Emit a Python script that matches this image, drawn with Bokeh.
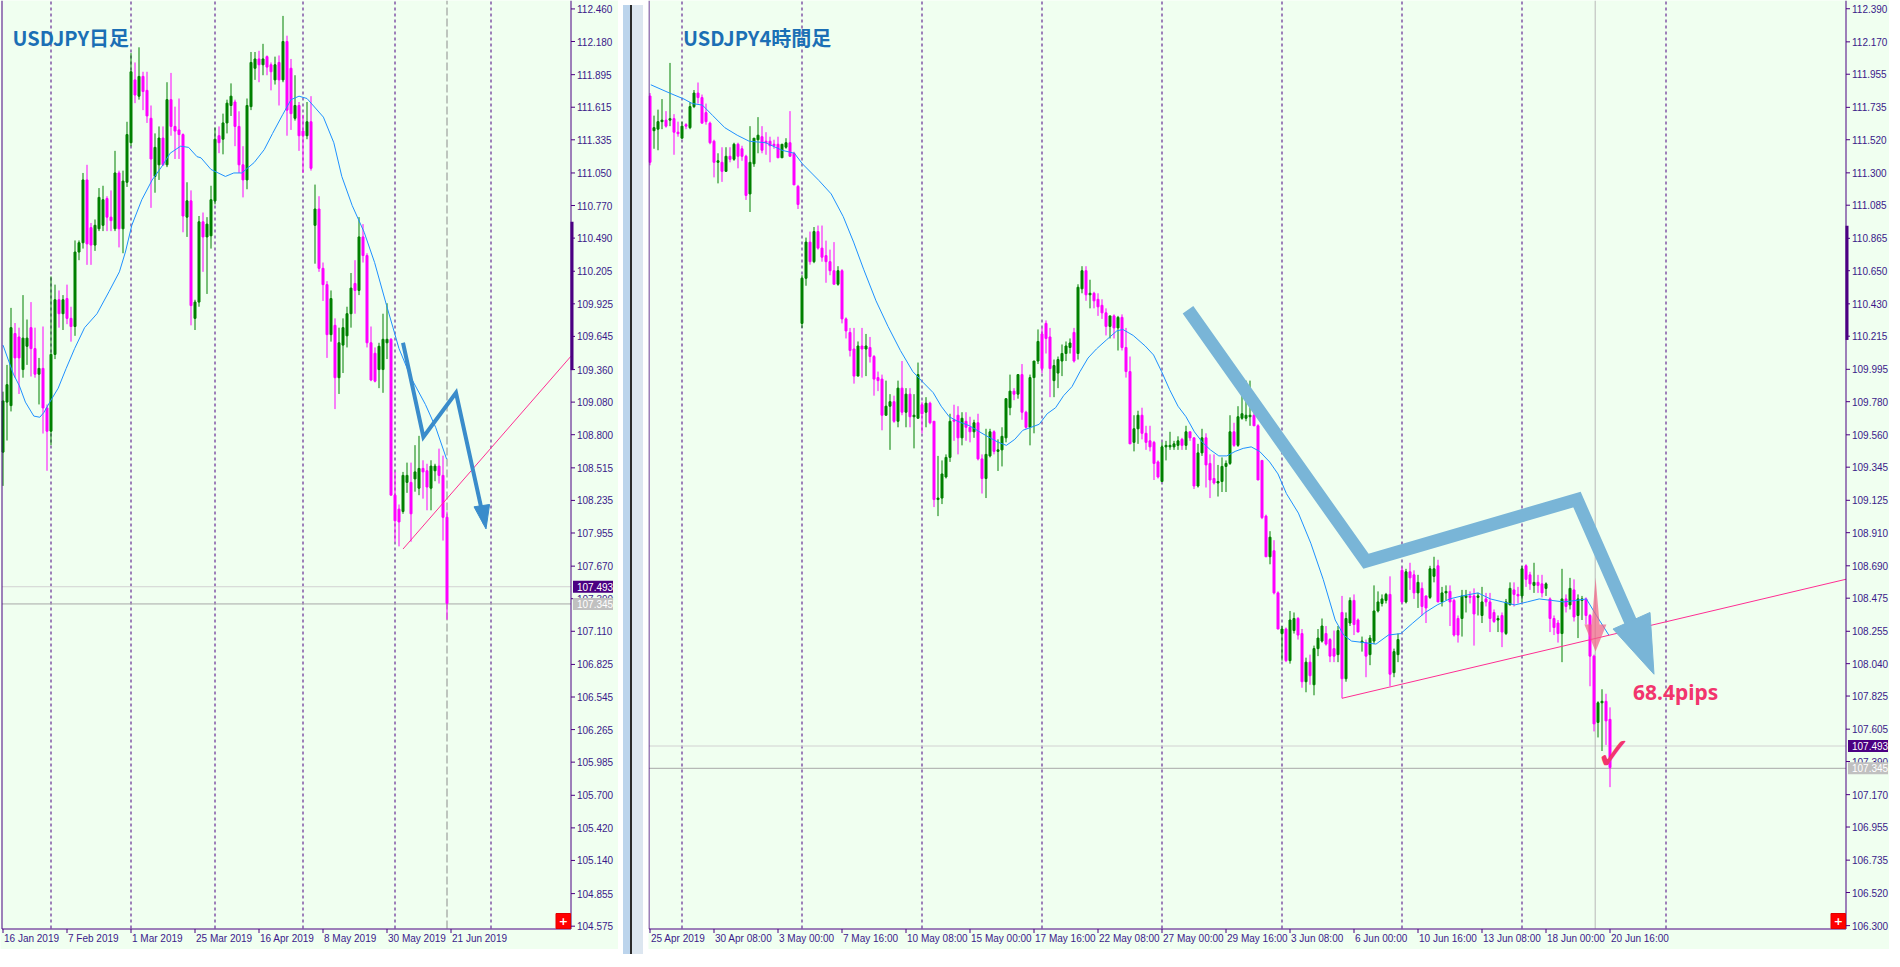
from bokeh.plotting import figure
from bokeh.models import Range1d, Label, ColumnDataSource, Div
from bokeh.layouts import row
from bokeh.core.properties import value
from bokeh.embed import file_html
from bokeh.resources import INLINE

# ---------------- Daily USDJPY (16 Jan 2019 - 20 Jun 2019) ----------------
d_open = [108.65,109.08,109.05,109.67,109.64,109.36,109.56,109.72,109.54,109.32,
 109.37,109.03,108.83,109.49,109.96,109.84,109.97,109.80,109.73,110.37,
 110.45,110.99,110.58,110.43,110.57,110.60,110.83,110.67,110.57,111.05,
 110.57,110.97,111.31,111.85,111.71,111.88,111.76,111.52,111.02,111.12,
 111.35,111.12,111.68,111.45,111.42,111.38,110.67,110.81,109.80,109.94,
 110.63,110.50,110.51,110.81,111.37,111.34,111.48,111.63,111.66,111.45,
 111.12,110.99,111.62,111.95,112.03,111.98,112.05,111.98,111.85,112.00,
 111.85,112.18,111.95,111.52,111.63,111.41,111.37,111.49,110.60,110.74,
 110.23,110.09,109.66,109.74,109.29,109.57,109.65,109.84,110.10,110.04,
 110.50,110.34,109.59,109.50,109.36,109.36,109.59,109.62,108.28,108.16,
 108.14,108.39,108.39,108.42,108.34,108.51,108.49,108.34,108.49,108.53,
 108.45,108.09]
d_high = [109.17,109.40,109.89,109.76,109.72,110.00,109.79,109.94,109.72,109.46,
 109.73,109.06,110.16,110.09,110.04,110.00,110.09,109.90,110.47,110.47,
 111.05,111.12,110.62,110.65,110.92,110.94,110.85,110.90,111.24,111.07,
 111.07,111.49,112.08,112.00,112.13,111.92,111.92,111.63,111.39,111.45,
 111.45,111.83,111.91,111.62,111.69,111.39,110.97,110.90,109.96,110.68,
 110.71,110.67,110.94,111.44,111.45,111.56,111.68,111.82,111.68,111.58,
 111.28,111.69,112.09,112.09,112.10,112.16,112.06,112.00,112.05,112.06,
 112.40,112.23,112.03,111.89,111.66,111.55,111.66,111.71,110.95,110.85,
 110.28,110.12,110.04,109.80,109.72,109.80,109.90,110.19,110.30,110.67,
 110.61,110.36,109.73,109.55,109.59,109.84,109.93,109.63,108.48,108.20,
 108.48,108.56,108.56,108.71,108.79,108.58,108.55,108.58,108.55,108.68,
 108.62,108.14]
d_low = [108.36,108.75,109.00,109.29,109.15,109.29,109.40,109.30,109.29,109.06,
 108.81,108.49,108.71,109.45,109.72,109.70,109.75,109.60,109.65,110.30,
 110.40,110.26,110.26,110.38,110.55,110.55,110.55,110.55,110.55,110.41,
 110.36,110.93,111.28,111.65,111.68,111.59,111.48,110.75,110.88,110.99,
 111.11,111.10,111.37,111.17,111.17,110.54,110.50,109.74,109.70,109.90,
 110.20,110.01,110.40,110.78,111.22,111.21,111.39,111.54,111.28,111.05,
 110.84,110.91,111.59,111.85,111.83,111.89,111.89,111.76,111.81,111.63,
 111.83,111.37,111.42,111.50,111.24,111.05,111.34,111.07,110.27,110.20,
 109.95,109.46,109.60,109.02,109.15,109.33,109.55,109.72,109.84,110.00,
 110.28,109.55,109.26,109.25,109.20,109.16,109.45,108.28,107.88,107.84,
 108.12,108.30,107.88,108.31,108.28,108.25,108.15,108.15,108.40,108.38,
 107.89,107.21]
d_close = [109.09,109.23,109.72,109.46,109.46,109.63,109.63,109.54,109.32,109.37,
 109.03,108.83,109.49,109.96,109.84,109.96,109.80,109.73,110.37,110.45,
 110.99,110.44,110.43,110.60,110.84,110.82,110.67,110.64,111.05,110.57,
 110.98,111.38,111.92,111.72,111.88,111.75,111.54,111.17,111.27,111.35,
 111.12,111.68,111.45,111.41,111.38,110.68,110.81,109.91,109.94,110.63,
 110.50,110.61,110.82,111.34,111.31,111.48,111.65,111.71,111.45,111.12,
 110.99,111.63,112.00,112.03,111.98,112.03,111.96,111.92,111.98,111.85,
 112.18,111.59,111.56,111.63,111.37,111.37,111.49,111.09,110.74,110.23,
 110.09,109.66,109.97,109.29,109.59,109.72,109.84,110.06,110.04,110.50,
 110.34,109.59,109.27,109.26,109.56,109.62,109.62,108.28,108.06,108.05,
 108.45,108.45,108.12,108.48,108.51,108.48,108.35,108.53,108.53,108.45,
 108.09,107.35]
# moving average (bar position, price)
d_ma_x = [0,2.6,4.1,5.6,7.7,9.2,10.2,11.7,13.8,15.8,17.9,20.4,23.5,26.5,29.1,30.6,32.2,
 34.7,37.3,39.8,41.8,44.4,46.4,48.5,49.5,52.0,55.6,57.7,59.7,62.8,65.3,67.4,69.9,72.0,
 74.0,76.0,80.1,82.7,84.7,87.3,90.3,92.9,95.9,97.5,99.0,102.0,105.6,108.2,110.9]
d_ma_y = [109.57,109.32,109.22,109.08,108.96,108.95,108.99,109.08,109.20,109.37,109.54,
 109.72,109.84,110.03,110.20,110.37,110.60,110.82,110.99,111.11,111.22,111.28,111.27,
 111.19,111.18,111.08,111.02,111.05,111.05,111.14,111.25,111.39,111.55,111.68,111.71,
 111.69,111.53,111.31,111.02,110.77,110.54,110.28,109.91,109.72,109.54,109.29,109.06,
 108.86,108.59]
d_tick_pos = [0, 16, 32, 48, 64, 80, 96, 112]
d_tick_lbl = ["16 Jan 2019", "7 Feb 2019", "1 Mar 2019", "25 Mar 2019", "16 Apr 2019",
              "8 May 2019", "30 May 2019", "21 Jun 2019"]
d_yticks = [104.575,104.855,105.140,105.420,105.700,105.985,106.265,106.545,106.825,
 107.110,107.390,107.670,107.955,108.235,108.515,108.800,109.080,109.360,109.645,
 109.925,110.205,110.490,110.770,111.050,111.335,111.615,111.895,112.180,112.460]
d_sep = [12, 32, 53, 75, 98, 122]
d_vline = 111
d_scale_mark = [109.355, 110.63]
d_trend_x = [100.0, 142.0]
d_trend_y = [107.817, 109.475]
d_arrow_x = [100.0, 105.1, 113.25, 120.4]
d_arrow_y = [109.59, 108.78, 109.16, 108.04]
d_head_x = [117.75, 121.65, 120.75]
d_head_y = [108.18, 108.20, 107.99]

# ---------------- 4-hour USDJPY (25 Apr 16:00 - 20 Jun 16:00) ----------------
h4_open = [111.81,111.58,111.59,111.64,111.65,111.65,111.66,111.57,111.53,111.62,
 111.60,111.74,111.83,111.80,111.70,111.63,111.51,111.37,111.37,111.31,
 111.41,111.39,111.49,111.46,111.41,111.16,111.36,111.52,111.54,111.51,
 111.51,111.49,111.49,111.40,111.47,111.50,111.43,111.21,110.30,110.60,
 110.84,110.71,110.91,110.80,110.75,110.71,110.65,110.56,110.65,110.33,
 110.24,110.13,109.95,110.15,110.13,110.14,110.08,109.94,109.93,109.69,
 109.75,109.78,109.65,109.87,109.71,109.83,109.68,109.67,109.76,109.71,
 109.77,109.65,109.13,109.14,109.28,109.41,109.66,109.69,109.54,109.65,
 109.61,109.58,109.64,109.40,109.27,109.42,109.58,109.45,109.46,109.54,
 109.74,109.85,109.83,109.96,109.71,109.61,109.94,110.05,110.23,110.30,
 110.21,109.92,109.97,110.05,110.10,110.14,110.24,110.10,110.53,110.65,
 110.49,110.50,110.46,110.42,110.37,110.28,110.35,110.27,110.34,110.14,
 109.98,109.51,109.60,109.69,109.57,109.52,109.51,109.38,109.25,109.48,
 109.48,109.48,109.49,109.53,109.49,109.58,109.54,109.22,109.44,109.54,
 109.37,109.27,109.24,109.25,109.35,109.37,109.58,109.49,109.67,109.67,
 109.68,109.69,109.62,109.39,109.02,108.75,108.79,108.51,108.24,108.27,
 108.06,108.26,108.34,108.24,107.92,108.05,107.90,108.14,108.19,108.24,
 108.20,108.14,108.10,108.38,107.94,108.31,108.46,108.33,108.18,108.18,
 108.10,108.19,108.39,108.44,108.46,108.50,107.98,108.10,108.66,108.45,
 108.65,108.63,108.51,108.54,108.49,108.48,108.62,108.69,108.45,108.51,
 108.52,108.46,108.34,108.34,108.48,108.49,108.49,108.48,108.36,108.47,
 108.45,108.38,108.33,108.36,108.24,108.43,108.53,108.50,108.49,108.69,
 108.63,108.56,108.58,108.57,108.54,108.47,108.34,108.31,108.24,108.47,
 108.43,108.53,108.36,108.46,108.47,108.36,108.09,107.65,107.78,107.79,
 107.67]
h4_high = [111.83,111.68,111.72,111.79,111.71,112.03,111.69,111.64,111.64,111.63,
 111.77,111.85,111.90,111.82,111.76,111.64,111.52,111.43,111.47,111.47,
 111.47,111.50,111.50,111.48,111.42,111.61,111.53,111.67,111.61,111.57,
 111.54,111.52,111.54,111.49,111.53,111.71,111.44,111.22,110.62,110.87,
 110.91,110.94,110.95,110.95,110.85,110.79,110.84,110.68,110.66,110.34,
 110.27,110.27,110.18,110.27,110.23,110.21,110.09,109.98,109.96,109.92,
 109.83,109.82,109.92,110.05,109.87,109.87,109.83,110.04,109.78,109.81,
 109.78,109.65,109.42,109.39,109.43,109.70,109.76,109.75,109.71,109.71,
 109.68,109.66,109.70,109.43,109.60,109.60,109.59,109.53,109.61,109.80,
 109.96,109.87,109.96,110.03,109.72,109.96,110.05,110.26,110.27,110.32,
 110.27,110.06,110.08,110.16,110.18,110.20,110.27,110.56,110.68,110.68,
 110.59,110.51,110.50,110.46,110.40,110.35,110.36,110.35,110.36,110.27,
 110.08,109.69,109.72,109.74,109.62,109.62,109.52,109.39,109.51,109.52,
 109.58,109.52,109.55,109.54,109.62,109.58,109.54,109.50,109.60,109.57,
 109.43,109.43,109.36,109.41,109.39,109.69,109.64,109.75,109.82,109.92,
 109.92,109.71,109.63,109.39,109.03,108.92,108.86,108.52,108.29,108.28,
 108.39,108.38,108.35,108.27,108.08,108.10,108.16,108.27,108.34,108.29,
 108.21,108.26,108.29,108.49,108.38,108.48,108.50,108.34,108.22,108.20,
 108.23,108.56,108.52,108.50,108.51,108.62,108.14,108.24,108.68,108.67,
 108.71,108.66,108.63,108.58,108.49,108.69,108.75,108.73,108.55,108.56,
 108.56,108.47,108.36,108.53,108.53,108.52,108.54,108.51,108.55,108.51,
 108.51,108.40,108.36,108.38,108.47,108.58,108.58,108.55,108.69,108.70,
 108.65,108.71,108.63,108.63,108.58,108.48,108.36,108.33,108.67,108.50,
 108.61,108.60,108.50,108.49,108.48,108.37,108.10,107.79,107.87,107.84,
 107.75]
h4_low = [111.35,111.46,111.45,111.59,111.60,111.61,111.42,111.54,111.53,111.59,
 111.59,111.73,111.76,111.63,111.62,111.49,111.27,111.23,111.24,111.31,
 111.37,111.38,111.33,111.38,111.12,111.04,111.34,111.43,111.43,111.42,
 111.37,111.46,111.40,111.40,111.46,111.41,111.22,111.06,110.27,110.55,
 110.69,110.70,110.79,110.71,110.57,110.62,110.56,110.55,110.30,110.20,
 110.08,109.90,109.95,109.94,109.95,110.04,109.82,109.85,109.59,109.69,
 109.46,109.64,109.61,109.69,109.61,109.61,109.47,109.67,109.57,109.61,
 109.63,109.08,109.02,109.10,109.27,109.38,109.52,109.43,109.49,109.52,
 109.51,109.54,109.39,109.17,109.14,109.41,109.43,109.32,109.35,109.51,
 109.69,109.79,109.80,109.66,109.60,109.49,109.57,110.03,109.97,110.10,
 109.81,109.81,109.87,109.95,110.05,110.10,110.04,110.06,110.50,110.45,
 110.40,110.40,110.35,110.33,110.22,110.20,110.20,110.12,110.12,109.94,
 109.50,109.45,109.50,109.53,109.46,109.45,109.26,109.27,109.25,109.39,
 109.46,109.46,109.46,109.46,109.46,109.52,109.20,109.21,109.42,109.21,
 109.14,109.23,109.15,109.18,109.18,109.36,109.48,109.48,109.66,109.65,
 109.62,109.62,109.26,109.00,108.75,108.70,108.50,108.27,108.06,108.05,
 108.04,108.24,108.20,107.88,107.85,107.90,107.83,108.09,108.18,108.16,
 108.05,108.05,108.05,107.81,107.92,108.29,108.23,108.25,108.12,107.95,
 108.03,108.17,108.38,108.42,108.44,107.89,107.95,108.05,108.44,108.44,
 108.53,108.47,108.41,108.36,108.31,108.47,108.58,108.45,108.42,108.46,
 108.29,108.22,108.18,108.22,108.38,108.44,108.16,108.36,108.31,108.42,
 108.25,108.31,108.25,108.15,108.23,108.43,108.42,108.44,108.45,108.55,
 108.53,108.51,108.51,108.48,108.49,108.25,108.23,108.18,108.05,108.38,
 108.40,108.32,108.21,108.33,108.30,107.89,107.59,107.55,107.46,107.50,
 107.22]
h4_close = [111.37,111.60,111.64,111.65,111.61,111.66,111.57,111.56,111.61,111.61,
 111.74,111.83,111.80,111.63,111.64,111.50,111.37,111.38,111.31,111.41,
 111.39,111.49,111.41,111.41,111.15,111.37,111.53,111.55,111.45,111.50,
 111.48,111.48,111.40,111.49,111.50,111.41,111.22,111.09,110.60,110.84,
 110.71,110.91,110.80,110.74,110.71,110.65,110.56,110.65,110.33,110.25,
 110.12,109.95,110.15,110.13,110.15,110.08,109.93,109.92,109.69,109.75,
 109.78,109.65,109.87,109.71,109.83,109.68,109.69,109.96,109.70,109.77,
 109.64,109.13,109.14,109.30,109.41,109.65,109.65,109.54,109.67,109.61,
 109.58,109.64,109.40,109.27,109.43,109.58,109.45,109.46,109.55,109.80,
 109.85,109.83,109.96,109.71,109.61,109.94,110.05,110.18,110.00,110.20,
 110.00,110.02,110.06,110.10,110.15,110.17,110.05,110.54,110.65,110.49,
 110.50,110.45,110.41,110.37,110.28,110.35,110.27,110.34,110.14,109.98,
 109.50,109.60,109.69,109.57,109.51,109.48,109.37,109.28,109.48,109.49,
 109.49,109.50,109.52,109.49,109.58,109.54,109.22,109.44,109.54,109.36,
 109.26,109.24,109.25,109.35,109.37,109.58,109.49,109.68,109.70,109.69,
 109.69,109.62,109.26,109.01,108.75,108.88,108.51,108.27,108.27,108.06,
 108.33,108.34,108.23,107.92,108.05,107.96,108.14,108.21,108.29,108.17,
 108.09,108.09,108.26,107.94,108.34,108.46,108.30,108.25,108.19,108.09,
 108.21,108.39,108.45,108.47,108.50,107.97,108.12,108.20,108.45,108.65,
 108.61,108.51,108.58,108.42,108.41,108.67,108.67,108.45,108.51,108.52,
 108.45,108.23,108.23,108.49,108.49,108.48,108.37,108.49,108.45,108.45,
 108.34,108.32,108.34,108.25,108.45,108.54,108.50,108.49,108.67,108.60,
 108.57,108.58,108.56,108.51,108.57,108.34,108.28,108.24,108.47,108.42,
 108.54,108.35,108.47,108.47,108.36,108.09,107.64,107.78,107.79,107.66,
 107.35]
h4_ma_x = [0.2,4.9,8.5,10.6,13.1,15.7,18.7,21.8,24.8,28.9,33.0,36.1,38.1,42.2,45.3,48.3,
 50.9,53.4,56.5,59.5,62.6,65.7,68.2,70.8,72.8,74.8,76.9,79.9,83.0,85.0,87.1,89.1,91.2,
 93.2,95.3,97.3,99.3,101.4,103.4,105.5,107.5,109.5,111.6,114.1,116.7,118.2,120.8,123.8,
 125.9,127.9,129.9,132.0,134.0,136.1,138.1,140.1,142.2,144.2,146.3,148.3,150.3,152.4,
 154.9,157.0,159.1,162.1,165.2,168.3,171.3,173.4,175.4,178.5,181.5,184.6,187.7,190.7,
 193.8,196.8,199.9,203.0,207.0,210.1,213.2,216.2,219.3,222.3,225.4,228.5,231.5,234.1,
 236.6,239.7]
h4_ma_y = [111.885,111.83,111.79,111.76,111.75,111.68,111.60,111.55,111.51,111.50,
 111.45,111.43,111.36,111.25,111.16,111.01,110.84,110.66,110.45,110.28,
 110.12,109.98,109.91,109.84,109.75,109.68,109.65,109.62,109.57,109.54,
 109.51,109.49,109.53,109.59,109.61,109.63,109.70,109.74,109.82,109.88,
 109.98,110.07,110.13,110.19,110.25,110.26,110.22,110.15,110.09,109.98,
 109.86,109.75,109.68,109.58,109.51,109.46,109.42,109.42,109.45,109.47,
 109.48,109.45,109.38,109.30,109.17,109.04,108.84,108.60,108.33,108.23,
 108.19,108.18,108.17,108.23,108.24,108.31,108.38,108.43,108.47,108.49,
 108.51,108.47,108.45,108.43,108.45,108.47,108.46,108.45,108.46,108.47,
 108.36,108.23]
h4_tick_pos = list(range(0, 241, 16))
h4_tick_lbl = ["25 Apr 2019", "30 Apr 08:00", "3 May 00:00", "7 May 16:00", "10 May 08:00",
               "15 May 00:00", "17 May 16:00", "22 May 08:00", "27 May 00:00", "29 May 16:00",
               "3 Jun 08:00", "6 Jun 00:00", "10 Jun 16:00", "13 Jun 08:00", "18 Jun 00:00",
               "20 Jun 16:00"]
h4_yticks = [106.300,106.520,106.735,106.955,107.170,107.390,107.605,107.825,108.040,
 108.255,108.475,108.690,108.910,109.125,109.345,109.560,109.780,109.995,110.215,
 110.430,110.650,110.865,111.085,111.300,111.520,111.735,111.955,112.170,112.390]
h4_sep = [8, 38, 68, 98, 128, 158, 188, 218, 254]
h4_vline = 236.3
h4_scale_mark = [110.19, 110.948]
h4_trend_x = [173.0, 302.25]
h4_trend_y = [107.81, 108.621]
h4_arrow_x = [134.5, 179.0, 231.75, 245.3]
h4_arrow_y = [110.39, 108.72, 109.13, 108.31]
h4_head_x = [240.75, 250.0, 251.0]
h4_head_y = [108.27, 108.38, 107.97]
pink_x = [236.4, 237.4, 239.1, 236.4, 233.6, 235.4]
pink_y = [108.61, 108.30, 108.30, 108.12, 108.30, 108.30]

ask_price = 107.493
bid_price = 107.345

assert len(d_open) == len(d_high) == len(d_low) == len(d_close) == 112
assert len(h4_open) == len(h4_high) == len(h4_low) == len(h4_close) == 241
assert len(d_ma_x) == len(d_ma_y) and len(h4_ma_x) == len(h4_ma_y)

# ---------------- styling ----------------
BG = "#F0FFF0"
AX = "#4B0082"
LBL = "#3A1A8A"
BULL = "#008000"
BEAR = "#FF00FF"
MA_C = "#1E90FF"
TREND = "#FF2E93"
CHART_H = 928          # height of the candle area in px
AXIS_H = 21            # room for the time labels
PPX = 4.0              # px per bar
FONT = "Liberation Sans"


def make_panel(o, h, l, c, chart_w, fig_w, left_px, y0, y1, yticks, xt_pos, xt_lbl,
               seps, ma_x, ma_y, vline, vline_dash, vline_color, scale_mark,
               trend_x, trend_y):
    fig_h = CHART_H + AXIS_H
    ppy = CHART_H / (y1 - y0)
    bar0_px = left_px + 1.0

    def X(px):
        return (px - bar0_px) / PPX

    def Y(py):
        return y1 - py / ppy

    axis_px = left_px + chart_w + 1.0
    bottom_py = CHART_H + 0.5
    xL, xR, yB = X(left_px), X(axis_px), Y(bottom_py)

    p = figure(width=fig_w, height=fig_h, x_range=Range1d(X(0), X(fig_w)),
               y_range=Range1d(Y(fig_h), y1), x_axis_type=None, y_axis_type=None,
               min_border=0, output_backend="svg", toolbar_location=None,
               background_fill_color=BG, border_fill_color=BG, outline_line_color=None,
               title=None)
    p.xgrid.visible = False
    p.ygrid.visible = False

    # period separators, horizontal price lines, marker line
    p.segment(x0=seps, x1=seps, y0=[Y(CHART_H)] * len(seps), y1=[y1] * len(seps),
              line_color=AX, line_dash="3 3", line_width=1)
    p.segment(x0=[xL, xL], x1=[xR, xR], y0=[ask_price, bid_price], y1=[ask_price, bid_price],
              line_color=["#D2D2D2", "#A8A8A8"], line_width=1)
    p.segment(x0=[vline], x1=[vline], y0=[Y(CHART_H)], y1=[y1], line_color=vline_color,
              line_dash=vline_dash, line_width=1)

    # candles
    src = ColumnDataSource(dict(
        x=list(range(len(o))),
        top=[max(a, b) for a, b in zip(o, c)],
        bottom=[min(a, b) for a, b in zip(o, c)],
        high=h, low=l,
        color=[BULL if b >= a else BEAR for a, b in zip(o, c)]))
    p.segment(x0="x", y0="low", x1="x", y1="high", line_color="color", line_width=1,
              source=src)
    p.vbar(x="x", width=0.5, top="top", bottom="bottom", fill_color="color",
           line_color="color", line_width=1, source=src)
    p.line(ma_x, ma_y, line_color=MA_C, line_width=1)

    # trend line, ending at the price axis
    slope = (trend_y[1] - trend_y[0]) / (trend_x[1] - trend_x[0])
    p.line([trend_x[0], xR], [trend_y[0], trend_y[0] + slope * (xR - trend_x[0])],
           line_color=TREND, line_width=1)

    # frame lines
    p.segment(x0=[xL, xR, xL], x1=[xL, xR, xR], y0=[yB, yB, yB], y1=[y1, y1, yB],
              line_color=AX, line_width=1)
    p.segment(x0=[X(axis_px + 1)], x1=[X(axis_px + 1)], y0=[scale_mark[0]],
              y1=[scale_mark[1]], line_color=AX, line_width=3)

    # price axis ticks + labels
    n = len(yticks)
    p.segment(x0=[xR] * n, x1=[X(axis_px + 4)] * n, y0=yticks, y1=yticks,
              line_color=AX, line_width=1)
    p.text(x=[X(axis_px + 6)] * n, y=yticks, text=[f"{v:.3f}" for v in yticks],
           text_font=value(FONT), text_font_size=value("10px"), text_color=LBL,
           text_align="left", text_baseline="middle")

    # time axis ticks + labels (left aligned at the tick, MT4 style)
    m = len(xt_pos)
    p.segment(x0=xt_pos, x1=xt_pos, y0=[yB] * m, y1=[Y(bottom_py + 4)] * m,
              line_color=AX, line_width=1)
    p.text(x=xt_pos, y=[Y(bottom_py + 4)] * m, text=xt_lbl, x_offset=1,
           text_font=value(FONT), text_font_size=value("10px"), text_color=LBL,
           text_align="left", text_baseline="top")

    # current price boxes on the axis
    hh = 6.0 / ppy
    for price, bg in ((ask_price, "#4B0082"), (bid_price, "#C0C0C0")):
        p.quad(left=[X(axis_px + 2)], right=[X(axis_px + 42)], bottom=[price - hh],
               top=[price + hh], fill_color=bg, line_color=None)
        p.text(x=[X(axis_px + 6)], y=[price], text=[f"{price:.3f}"],
               text_font=value(FONT), text_font_size=value("10px"), text_color="white",
               text_align="left", text_baseline="middle")

    # red "+" box in the lower right corner
    p.quad(left=[X(axis_px - 15)], right=[X(axis_px - 0.5)], bottom=[Y(CHART_H)],
           top=[Y(CHART_H - 15)], fill_color="#FF0000", line_color="#E00000")
    p.text(x=[X(axis_px - 7.75)], y=[Y(CHART_H - 7.5)], text=["+"],
           text_font=value("DejaVu Sans"), text_font_style="bold",
           text_font_size=value("11px"), text_color="white", text_align="center",
           text_baseline="middle")
    return p


# ---------------- left: daily ----------------
p1 = make_panel(d_open, d_high, d_low, d_close, 568, 618, 1.5, 104.555, 112.5325,
                d_yticks, d_tick_pos, d_tick_lbl, d_sep, d_ma_x, d_ma_y,
                d_vline, "8 3", "#8C8C8C", d_scale_mark, d_trend_x, d_trend_y)
p1.line(d_arrow_x, d_arrow_y, line_color="#3A8CCB", line_width=4, line_join="miter")
p1.patch(d_head_x, d_head_y, fill_color="#3A8CCB", line_color="#3A8CCB")
p1.add_layout(Label(x=2.4, y=112.214, text="USDJPY日足", text_font="Noto Sans CJK JP",
                    text_font_style="bold", text_font_size="20px", text_color="#1B6FB5",
                    text_baseline="middle", text_align="left"))

# ---------------- right: 4 hour ----------------
p2 = make_panel(h4_open, h4_high, h4_low, h4_close, 1196, 1241, 0.5, 106.281, 112.4447,
                h4_yticks, h4_tick_pos, h4_tick_lbl, h4_sep, h4_ma_x, h4_ma_y,
                h4_vline, "solid", "#B8B8B8", h4_scale_mark, h4_trend_x, h4_trend_y)
p2.line(h4_arrow_x, h4_arrow_y, line_color="#79B5D7", line_width=13, line_join="miter")
p2.patch(h4_head_x, h4_head_y, fill_color="#79B5D7", line_color="#79B5D7")
p2.patch(pink_x, pink_y, fill_color="#F25F86", fill_alpha=0.7, line_color=None)
p2.add_layout(Label(x=8.25, y=112.199, text="USDJPY4時間足", text_font="Noto Sans CJK JP",
                    text_font_style="bold", text_font_size="20px", text_color="#1B6FB5",
                    text_baseline="middle", text_align="left"))
p2.add_layout(Label(x=245.75, y=107.85, text="68.4pips", text_font="Noto Sans",
                    text_font_style="bold", text_font_size="21px", text_color="#F2356D",
                    text_baseline="middle", text_align="left"))
p2.add_layout(Label(x=241.0, y=107.44, text="✓", text_font="DejaVu Sans",
                    text_font_style="bold", text_font_size="46px", text_color="#F2356D",
                    text_baseline="middle", text_align="center"))

divider = Div(text="", width=20, height=CHART_H + AXIS_H,
              styles={"background": "linear-gradient(to right, #BCD4EC 0px, #BCD4EC 7px, "
                                     "#2B2B2B 7px, #2B2B2B 9px, #DCE6F0 9px, #DCE6F0 20px)"})

layout = row(p1, divider, p2)
open("out.html", "w").write(file_html(layout, INLINE))
